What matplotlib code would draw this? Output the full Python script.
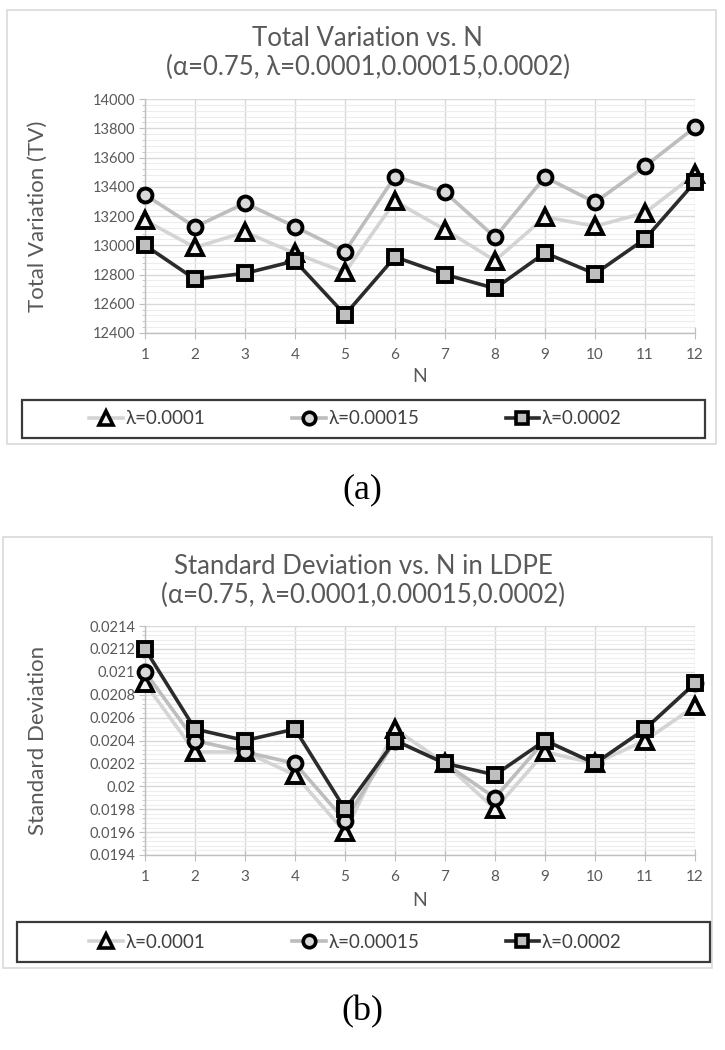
import matplotlib
matplotlib.use("Agg")
import matplotlib.pyplot as plt
from matplotlib.patches import Rectangle
from matplotlib.lines import Line2D
from matplotlib.ticker import MultipleLocator, FixedLocator

plt.rcParams['font.family'] = ['Lato', 'DejaVu Sans']

N = [1, 2, 3, 4, 5, 6, 7, 8, 9, 10, 11, 12]
labels = ["λ=0.0001", "λ=0.00015", "λ=0.0002"]

tv_l1 = [13170, 12985, 13090, 12945, 12815, 13300, 13107, 12895, 13193, 13130, 13222, 13485]
tv_l15 = [13345, 13125, 13288, 13127, 12957, 13470, 13362, 13055, 13466, 13293, 13540, 13807]
tv_l2 = [13000, 12768, 12808, 12893, 12525, 12920, 12800, 12705, 12948, 12805, 13043, 13432]

sd_l1 = [0.0209, 0.0203, 0.0203, 0.0201, 0.0196, 0.0205, 0.0202, 0.0198, 0.0203, 0.0202, 0.0204, 0.0207]
sd_l15 = [0.0210, 0.0204, 0.0203, 0.0202, 0.0197, 0.0204, 0.0202, 0.0199, 0.0204, 0.0202, 0.0205, 0.0209]
sd_l2 = [0.0212, 0.0205, 0.0204, 0.0205, 0.0198, 0.0204, 0.0202, 0.0201, 0.0204, 0.0202, 0.0205, 0.0209]

tv_ticks = [12400, 12600, 12800, 13000, 13200, 13400, 13600, 13800, 14000]
tv_ticklabels = ["12400", "12600", "12800", "13000", "13200", "13400", "13600", "13800", "14000"]
sd_ticks = [0.0194, 0.0196, 0.0198, 0.0200, 0.0202, 0.0204, 0.0206, 0.0208, 0.0210, 0.0212, 0.0214]
sd_ticklabels = ["0.0194", "0.0196", "0.0198", "0.02", "0.0202", "0.0204", "0.0206",
                 "0.0208", "0.021", "0.0212", "0.0214"]

styles = [
    dict(color="#d4d4d4", marker="^", mfc="#f2f2f2", z=3, ms=11),
    dict(color="#bdbdbd", marker="o", mfc="#d9d9d9", z=4, ms=10),
    dict(color="#2b2b2b", marker="s", mfc="#bfbfbf", z=5, ms=10),
]

W, H = 725, 1050
fig = plt.figure(figsize=(W / 100, H / 100), dpi=100)

TXT = "#595959"


def px(x0, y0, x1, y1):
    return [x0 / W, 1 - y1 / H, (x1 - x0) / W, (y1 - y0) / H]


def panel(plot_box, frame_box, leg_box, title, ylab, series, yticks, yticklabels, ylim, minor, title_y, ylab_x, xlab_y):
    fig.patches.append(Rectangle((frame_box[0] / W, 1 - frame_box[3] / H),
                                 (frame_box[2] - frame_box[0]) / W, (frame_box[3] - frame_box[1]) / H,
                                 transform=fig.transFigure, fill=False, edgecolor="#d9d9d9", lw=1.2))
    ax = fig.add_axes(px(*plot_box))
    for s, st, lab in zip(series, styles, labels):
        ax.plot(N, s, color=st["color"], lw=2.6, marker=st["marker"], ms=st["ms"],
                mfc=st["mfc"], mec="black", mew=2.8, zorder=st["z"], clip_on=False, label=lab)
    ax.set_xlim(1, 12)
    ax.set_ylim(*ylim)
    ax.set_xticks(N)
    ax.set_xticklabels([str(n) for n in N])
    ax.yaxis.set_major_locator(FixedLocator(yticks))
    ax.set_yticklabels(yticklabels)
    ax.yaxis.set_minor_locator(MultipleLocator(minor))
    ax.grid(which="major", axis="both", color="#d9d9d9", lw=1.0, zorder=0)
    ax.grid(which="minor", axis="y", color="#ededed", lw=0.8, zorder=0)
    ax.set_axisbelow(True)
    for side in ["top", "right"]:
        ax.spines[side].set_visible(False)
    for side in ["left", "bottom"]:
        ax.spines[side].set_color("#bfbfbf")
        ax.spines[side].set_linewidth(1.0)
    ax.tick_params(axis="y", which="major", direction="out", length=4, color="#bfbfbf",
                   labelsize=10.5, labelcolor=TXT, pad=3)
    ax.tick_params(axis="y", which="minor", direction="out", length=2.5, color="#bfbfbf")
    ax.tick_params(axis="x", which="major", direction="inout", length=8, color="#bfbfbf",
                   labelsize=11, labelcolor=TXT, pad=7)
    cx = (frame_box[0] + frame_box[2]) / 2 / W + 6 / W
    fig.text(cx, 1 - title_y / H, title, ha="center", va="center", fontsize=18.5, color=TXT, linespacing=1.22)
    fig.text(ylab_x / W, 1 - (plot_box[1] + plot_box[3]) / 2 / H, ylab, rotation=90, ha="center",
             va="center", fontsize=16, color=TXT)
    fig.text((plot_box[0] + plot_box[2]) / 2 / W, 1 - xlab_y / H, "N", ha="center", va="center",
             fontsize=14, color=TXT)
    fig.patches.append(Rectangle((leg_box[0] / W, 1 - leg_box[3] / H),
                                 (leg_box[2] - leg_box[0]) / W, (leg_box[3] - leg_box[1]) / H,
                                 transform=fig.transFigure, fill=False, edgecolor="#3a3a3a", lw=1.6))
    handles = [Line2D([], [], color=st["color"], lw=2.6, marker=st["marker"], ms=st["ms"] - 1, mfc=st["mfc"],
                      mec="black", mew=2.6) for st in styles]
    leg = fig.legend(handles, labels, loc="center", ncol=3, frameon=False,
                     bbox_to_anchor=((leg_box[0] + leg_box[2]) / 2 / W - 8 / W, 1 - (leg_box[1] + leg_box[3]) / 2 / H),
                     fontsize=13.5, handlelength=1.8, handletextpad=0.15, columnspacing=4.6)
    for t in leg.get_texts():
        t.set_color("#404040")
    return ax


panel((145, 99, 695, 333), (7, 10, 716, 444), (22, 400, 705, 438),
      "Total Variation vs. N\n(α=0.75, λ=0.0001,0.00015,0.0002)", "Total Variation (TV)",
      [tv_l1, tv_l15, tv_l2], tv_ticks, tv_ticklabels, (12400, 14000), 40, 53, 38, 377)

panel((145, 626, 695, 855), (3, 537, 712, 968), (17, 922, 710, 962),
      "Standard Deviation vs. N in LDPE\n(α=0.75, λ=0.0001,0.00015,0.0002)", "Standard Deviation",
      [sd_l1, sd_l15, sd_l2], sd_ticks, sd_ticklabels, (0.0194, 0.0214), 0.00004, 581, 38, 900)

fig.text(0.5, 1 - 490 / H, "(a)", ha="center", va="center", fontsize=26, family="Liberation Serif")
fig.text(0.5, 1 - 1012 / H, "(b)", ha="center", va="center", fontsize=26, family="Liberation Serif")

fig.savefig("out.png", dpi=100)
